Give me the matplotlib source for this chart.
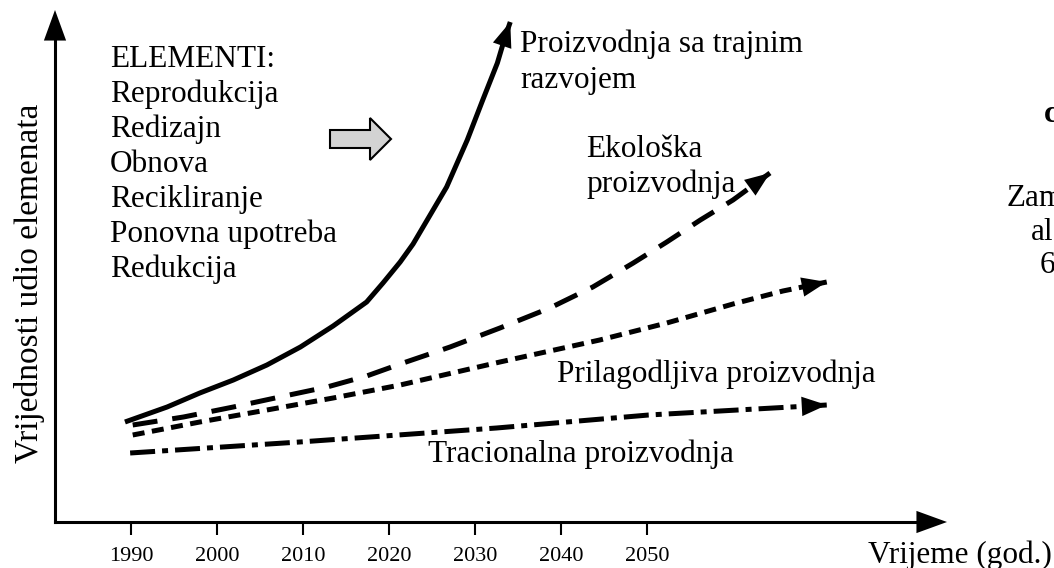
import matplotlib
matplotlib.use("Agg")
import matplotlib.pyplot as plt
from matplotlib.patches import FancyArrow

plt.rcParams['font.family'] = ['Liberation Serif', 'DejaVu Serif']

# values (year, relative value)
years_tick = [1990, 2000, 2010, 2020, 2030, 2040, 2050]

sust_x = [1989.3, 1994.2, 1998.0, 2001.9, 2005.8, 2009.7, 2013.5, 2017.4, 2019.3,
          2021.3, 2022.8, 2026.7, 2029.1, 2030.9, 2032.6, 2033.5, 2034.1]
sust_y = [1.00, 1.15, 1.29, 1.42, 1.57, 1.75, 1.96, 2.20, 2.39,
          2.60, 2.78, 3.35, 3.82, 4.22, 4.59, 4.85, 5.00]

eko_x = [1990.2, 1996.1, 2001.9, 2007.3, 2012.8, 2017.4, 2021.3, 2027.1,
         2032.9, 2038.7, 2043.7, 2048.4, 2052.3, 2056.2, 2060.0, 2064.3]
eko_y = [0.97, 1.05, 1.15, 1.25, 1.35, 1.46, 1.58, 1.75,
         1.94, 2.14, 2.35, 2.59, 2.80, 3.02, 3.22, 3.49]

pril_x = [1990.2, 1998.0, 2005.8, 2013.5, 2021.3, 2032.9, 2044.5, 2052.3,
          2060.0, 2065.8, 2070.9]
pril_y = [0.87, 1.00, 1.12, 1.24, 1.37, 1.60, 1.82, 1.99, 2.18, 2.31, 2.40]

trad_x = [1989.9, 2009.6, 2032.5, 2050.2, 2070.9]
trad_y = [0.69, 0.80, 0.94, 1.07, 1.17]

elementi = ['ELEMENTI:', 'Reprodukcija', 'Redizajn', 'Obnova',
            'Recikliranje', 'Ponovna upotreba', 'Redukcija']


# pixel -> data helpers for placing text / decorations
def X(px):
    return 1990 + (px - 131) / 8.6


def Y(py):
    return (522 - py) / 100


fig = plt.figure(figsize=(10.54, 5.68), dpi=100)
ax = fig.add_axes([0, 0, 1, 1])
ax.set_xlim(X(0), X(1054))
ax.set_ylim(Y(568), Y(0))

lw = 3.6
ax.plot(sust_x, sust_y, color='k', lw=lw, solid_capstyle='butt', solid_joinstyle='round')
ax.plot(eko_x, eko_y, color='k', lw=lw, dashes=(5, 3), dash_capstyle='butt')
ax.plot(pril_x, pril_y, color='k', lw=lw, dashes=(2.4, 1.5), dash_capstyle='butt')
ax.plot(trad_x, trad_y, color='k', lw=lw, dashes=(5, 1.4, 1.2, 1.4), dash_capstyle='butt')

head = dict(arrowstyle='-|>,head_length=0.9,head_width=0.35', mutation_scale=20,
            lw=0, color='k', shrinkA=0, shrinkB=0)
for xs, ys in [(sust_x, sust_y), (eko_x, eko_y), (pril_x, pril_y), (trad_x, trad_y)]:
    ax.annotate('', xy=(xs[-1], ys[-1]), xytext=(xs[-2], ys[-2]), arrowprops=head)

# axes drawn as arrows
for s in ['top', 'right']:
    ax.spines[s].set_visible(False)
ax.spines['bottom'].set_position(('data', 0))
ax.spines['left'].set_position(('data', X(55)))
ax.spines['bottom'].set_bounds(X(55), X(920))
ax.spines['left'].set_bounds(0, Y(35))
ax.spines['bottom'].set_linewidth(2.2)
ax.spines['left'].set_linewidth(2.2)
axhead = dict(arrowstyle='-|>,head_length=1.1,head_width=0.4', mutation_scale=20,
              lw=0, color='k', shrinkA=0, shrinkB=0)
ax.annotate('', xy=(X(947), 0), xytext=(X(900), 0), arrowprops=axhead)
ax.annotate('', xy=(X(55), Y(10)), xytext=(X(55), Y(60)), arrowprops=axhead)

ax.set_xticks(years_tick)
ax.set_xticklabels([str(y) for y in years_tick], fontsize=16)
ax.tick_params(axis='x', direction='out', length=9, width=1.5, pad=9)
ax.set_yticks([])

fs = 22.5
for i, t in enumerate(elementi):
    ax.text(X(110), Y(67 + i * 35), t, fontsize=fs, va='baseline', ha='left')

ax.add_patch(FancyArrow(X(330), Y(139), X(391) - X(330), 0, width=0.18,
                        head_width=0.42, head_length=X(391) - X(370),
                        length_includes_head=True, fc='#d3d3d3', ec='k', lw=1.5))

ax.text(X(520), Y(52), 'Proizvodnja sa trajnim', fontsize=fs, va='baseline', ha='left')
ax.text(X(520), Y(88), 'razvojem', fontsize=fs, va='baseline', ha='left')
ax.text(X(586), Y(157), 'Ekološka', fontsize=fs, va='baseline', ha='left')
ax.text(X(586), Y(192), 'proizvodnja', fontsize=fs, va='baseline', ha='left')
ax.text(X(557), Y(382), 'Prilagodljiva proizvodnja', fontsize=fs,
        va='baseline', ha='left')
ax.text(X(428), Y(462), 'Tracionalna proizvodnja', fontsize=fs,
        va='baseline', ha='left')

ax.text(X(30), Y(283), 'Vrijednosti udio elemenata', fontsize=24, rotation=90,
        va='center', ha='center')
ax.text(X(868), Y(563), 'Vrijeme (god.)', fontsize=fs, va='baseline', ha='left')

# text cut off at the right edge of the source picture
ax.text(X(1044), Y(122), 'c', fontsize=fs, fontweight='bold', va='baseline', ha='left')
ax.text(X(1007), Y(206), 'Zam', fontsize=fs, va='baseline', ha='left')
ax.text(X(1031), Y(240), 'al', fontsize=fs, va='baseline', ha='left')
ax.text(X(1040), Y(273), '6', fontsize=fs, va='baseline', ha='left')

fig.savefig('out.png', dpi=100)
